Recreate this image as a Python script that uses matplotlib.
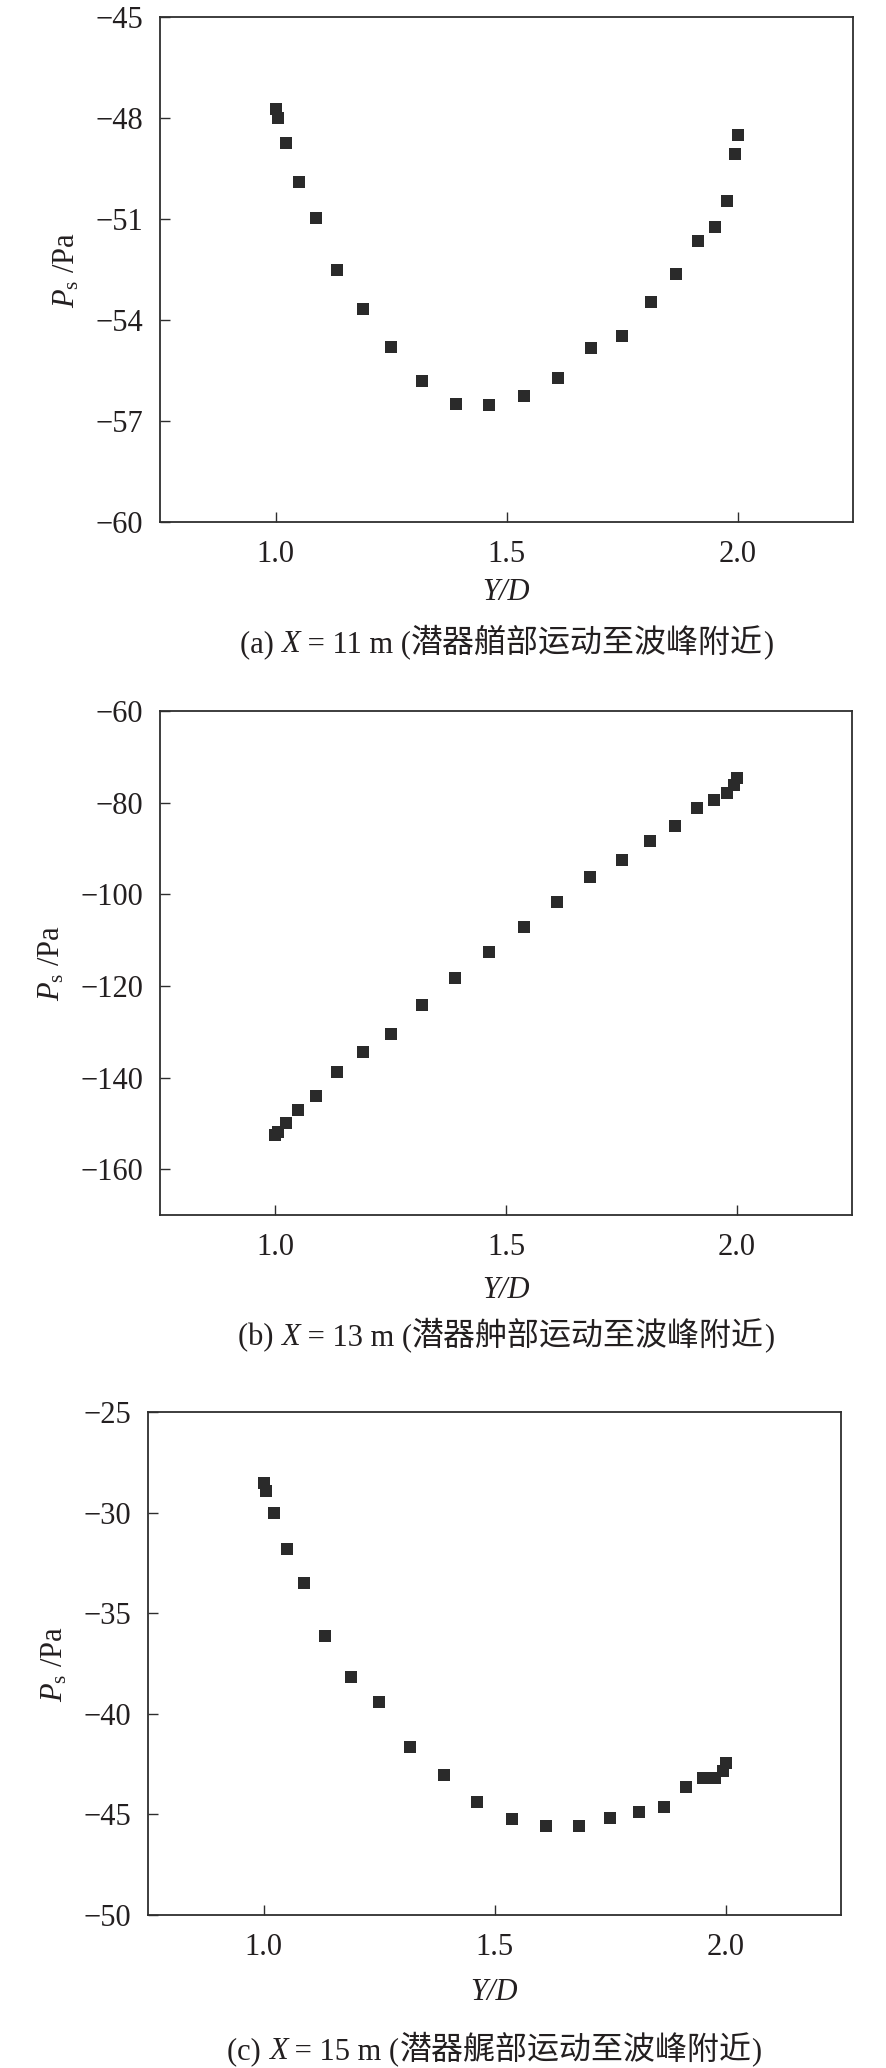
import matplotlib
matplotlib.use("Agg")
import matplotlib.pyplot as plt
from matplotlib.offsetbox import TextArea, HPacker, AnnotationBbox

# ---------------- data ----------------
y_over_d = [1.000, 1.006, 1.023, 1.050, 1.088, 1.134, 1.189, 1.251, 1.318, 1.390, 1.463,
            1.538, 1.611, 1.683, 1.751, 1.812, 1.867, 1.914, 1.951, 1.978, 1.994, 2.000]

ps_x11 = [-47.73, -47.99, -48.74, -49.89, -50.97, -52.51, -53.68, -54.81, -55.81, -56.50, -56.53,
          -56.25, -55.72, -54.84, -54.47, -53.46, -52.62, -51.64, -51.25, -50.47, -49.06, -48.51]

ps_x13 = [-152.6, -151.9, -150.0, -147.1, -144.0, -138.8, -134.5, -130.4, -124.2, -118.3, -112.6,
          -107.2, -101.7, -96.3, -92.6, -88.3, -85.0, -81.2, -79.4, -78.0, -76.1, -74.6]

ps_x15 = [-28.55, -28.95, -30.00, -31.83, -33.52, -36.14, -38.17, -39.43, -41.65, -43.03, -44.38,
          -45.25, -45.56, -45.60, -45.18, -44.89, -44.61, -43.66, -43.20, -43.20, -42.82, -42.43]

x_ticks = [1.0, 1.5, 2.0]
x_tick_labels = ["1.0", "1.5", "2.0"]
y_ticks_a = [-60, -57, -54, -51, -48, -45]
y_ticks_b = [-160, -140, -120, -100, -80, -60]
y_ticks_c = [-50, -45, -40, -35, -30, -25]

panel_tags = ["(a) ", "(b) ", "(c) "]
panel_x = ["11", "13", "15"]
panel_cn = ["潜器艏部运动至波峰附近", "潜器舯部运动至波峰附近", "潜器艉部运动至波峰附近"]

# ---------------- style ----------------
plt.rcParams["font.family"] = ["Liberation Serif", "Noto Sans CJK SC"]
plt.rcParams["mathtext.fontset"] = "custom"
plt.rcParams["mathtext.rm"] = "Liberation Serif"
plt.rcParams["mathtext.it"] = "Liberation Serif:italic"
plt.rcParams["axes.unicode_minus"] = True

TXT = "#231f20"
SPINE = "#2e2e2e"
MARK = "#2a2a2a"
FS = 22
FS_CJK = 23

W, H = 886, 2068
fig = plt.figure(figsize=(W / 100, H / 100), dpi=100)


def axes_px(l, t, r, b):
    return fig.add_axes([l / W, 1 - b / H, (r - l) / W, (b - t) / H])


panels = [
    dict(box=(160, 17, 853, 522), y=ps_x11, ylim=(-60, -45), yt=y_ticks_a, xl=592, cap=643),
    dict(box=(160, 711, 852, 1215), y=ps_x13, ylim=(-170, -60), yt=y_ticks_b, xl=1291, cap=1336),
    dict(box=(148, 1412, 841, 1915), y=ps_x15, ylim=(-50, -25), yt=y_ticks_c, xl=1992, cap=2050),
]

for i, p in enumerate(panels):
    l, t, r, b = p["box"]
    ax = axes_px(l, t, r, b)
    ax.plot(y_over_d, p["y"], linestyle="none", marker="s", markersize=9,
            color=MARK, markeredgewidth=0)
    ax.set_xlim(0.75, 2.25)
    ax.set_ylim(*p["ylim"])
    ax.set_xticks(x_ticks)
    ax.set_xticklabels(x_tick_labels)
    ax.set_yticks(p["yt"])
    for s in ax.spines.values():
        s.set_color(SPINE)
        s.set_linewidth(1.3)
    ax.tick_params(direction="in", length=7, width=1.0, color=SPINE,
                   labelsize=FS, labelcolor=TXT, top=False, right=False)
    ax.tick_params(axis="y", pad=12)
    ax.tick_params(axis="x", pad=13)
    ax.set_ylabel(r"$P_{\mathrm{s}}$ /Pa", fontsize=FS, color=TXT, labelpad=10)

    cx = (l + r) / 2 / W
    fig.text(cx, 1 - p["xl"] / H, "Y/D", fontsize=FS, fontstyle="italic",
             color=TXT, ha="center", va="center")

    latin = dict(fontsize=FS, color=TXT, family="Liberation Serif")
    italic = dict(fontsize=FS, color=TXT, family="Liberation Serif", style="italic")
    cjk = dict(fontsize=FS_CJK, color=TXT, family="Noto Sans CJK SC")
    parts = [
        TextArea(panel_tags[i], textprops=latin),
        TextArea("X", textprops=italic),
        TextArea(" = " + panel_x[i] + " m (", textprops=latin),
        TextArea(panel_cn[i], textprops=cjk),
        TextArea(")", textprops=latin),
    ]
    box = HPacker(children=parts, align="baseline", pad=0, sep=0)
    ab = AnnotationBbox(box, (cx, 1 - p["cap"] / H), xycoords="figure fraction",
                        frameon=False, box_alignment=(0.5, 0.5))
    fig.add_artist(ab)

fig.savefig("out.png", dpi=100, facecolor="white")
